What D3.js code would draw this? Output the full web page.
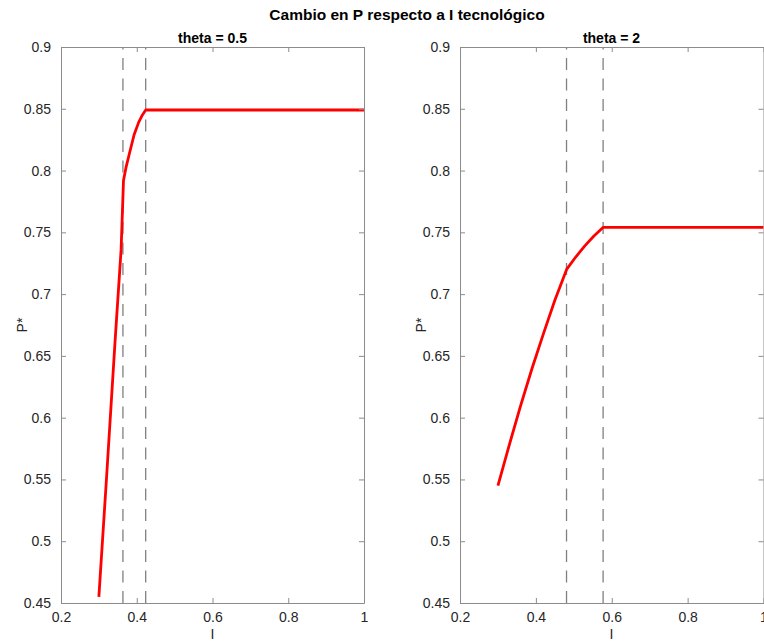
<!DOCTYPE html>
<html>
<head>
<meta charset="utf-8">
<script src="https://cdn.jsdelivr.net/npm/d3@7"></script>
<style>
  html, body { margin: 0; padding: 0; background: #ffffff; overflow: hidden; }
  svg { display: block; font-family: "Liberation Sans", Arial, Helvetica, sans-serif; }
</style>
</head>
<body>
<svg id="chart" width="764" height="642"></svg>
<script>
// ---- data ----
const figureTitle = "Cambio en P respecto a I tecnológico";
const panelTitles = ["theta = 0.5", "theta = 2"];
const xTicks = [0.2, 0.4, 0.6, 0.8, 1];
const yTicks = [0.45, 0.5, 0.55, 0.6, 0.65, 0.7, 0.75, 0.8, 0.85, 0.9];
const xDomain = [0.2, 1];
const yDomain = [0.45, 0.9];

const I_theta05 = [0.3, 0.321, 0.343, 0.3587, 0.365, 0.372, 0.38, 0.393, 0.405, 0.415, 0.4236, 1.0];
const P_theta05 = [0.455, 0.555, 0.663, 0.736, 0.792, 0.803, 0.813, 0.829, 0.839, 0.845, 0.849, 0.849];
const cuts_theta05 = [0.3635, 0.4236];

const I_theta2 = [0.3, 0.33, 0.36, 0.39, 0.42, 0.45, 0.481, 0.505, 0.529, 0.553, 0.577, 1.0];
const P_theta2 = [0.545, 0.578, 0.610, 0.640, 0.668, 0.695, 0.720, 0.730, 0.739, 0.747, 0.754, 0.754];
const cuts_theta2 = [0.4808, 0.5772];

// ---- layout ----
const svg = d3.select("#chart");
const textColor = "#262626";
const axisColor = "#8c8c8c";
const fmt = d => String(+d.toFixed(2));

svg.append("text")
  .attr("x", 407).attr("y", 20)
  .attr("text-anchor", "middle")
  .attr("font-size", 15.5).attr("font-weight", "bold")
  .attr("fill", "#000")
  .text(figureTitle);

const panels = [
  { title: panelTitles[0], I: I_theta05, P: P_theta05, cuts: cuts_theta05, x0: 61, x1: 364 },
  { title: panelTitles[1], I: I_theta2, P: P_theta2, cuts: cuts_theta2, x0: 460, x1: 763.5 }
];

const yTop = 47, yBot = 603;

panels.forEach(p => {
  const x = d3.scaleLinear().domain(xDomain).range([p.x0, p.x1]);
  const y = d3.scaleLinear().domain(yDomain).range([yBot, yTop]);
  const g = svg.append("g");
  const cx = (p.x0 + p.x0 + 303) / 2;

  // dashed vertical lines
  g.selectAll("line.cut").data(p.cuts).enter().append("line")
    .attr("class", "cut")
    .attr("x1", d => x(d)).attr("x2", d => x(d))
    .attr("y1", y(yDomain[0])).attr("y2", y(yDomain[1]))
    .attr("stroke", "#808080").attr("stroke-width", 1.3)
    .attr("stroke-dasharray", "12,8.5");

  // curve
  const pts = p.I.map((v, i) => [v, p.P[i]]);
  g.append("path")
    .datum(pts)
    .attr("d", d3.line().x(d => x(d[0])).y(d => y(d[1])))
    .attr("fill", "none")
    .attr("stroke", "#ff0000")
    .attr("stroke-width", 2.8)
    .attr("stroke-linejoin", "round");

  // axes (inward ticks, box)
  const tick = 5;
  const bottom = d3.axisBottom(x).tickValues(xTicks).tickFormat(fmt).tickSizeInner(-tick).tickSizeOuter(0).tickPadding(9);
  const top = d3.axisTop(x).tickValues(xTicks).tickFormat("").tickSizeInner(-tick).tickSizeOuter(0);
  const left = d3.axisLeft(y).tickValues(yTicks).tickFormat(fmt).tickSizeInner(-tick).tickSizeOuter(0).tickPadding(10);
  const right = d3.axisRight(y).tickValues(yTicks).tickFormat("").tickSizeInner(-tick).tickSizeOuter(0);

  const gb = g.append("g").attr("transform", `translate(0,${yBot})`).call(bottom);
  const gt = g.append("g").attr("transform", `translate(0,${yTop})`).call(top);
  const gl = g.append("g").attr("transform", `translate(${p.x0},0)`).call(left);
  const gr = g.append("g").attr("transform", `translate(${p.x1},0)`).call(right);

  [gb, gt, gl, gr].forEach(a => {
    a.select(".domain").attr("stroke", axisColor).attr("stroke-width", 1);
    a.selectAll(".tick line").attr("stroke", axisColor).attr("stroke-width", 1);
    a.selectAll(".tick text").attr("fill", textColor).attr("font-size", 14)
      .attr("font-family", "'Liberation Sans', Arial, Helvetica, sans-serif");
  });

  // panel title
  g.append("text")
    .attr("x", cx).attr("y", 43)
    .attr("text-anchor", "middle")
    .attr("font-size", 14).attr("font-weight", "bold")
    .attr("fill", "#000")
    .text(p.title);

  // axis labels
  g.append("text")
    .attr("x", cx).attr("y", 638.5)
    .attr("text-anchor", "middle")
    .attr("font-size", 14).attr("fill", textColor)
    .text("I");
  g.append("text")
    .attr("transform", `translate(${p.x0 - 34},325) rotate(-90)`)
    .attr("text-anchor", "middle")
    .attr("font-size", 14).attr("fill", textColor)
    .text("P*");
});
</script>
</body>
</html>
